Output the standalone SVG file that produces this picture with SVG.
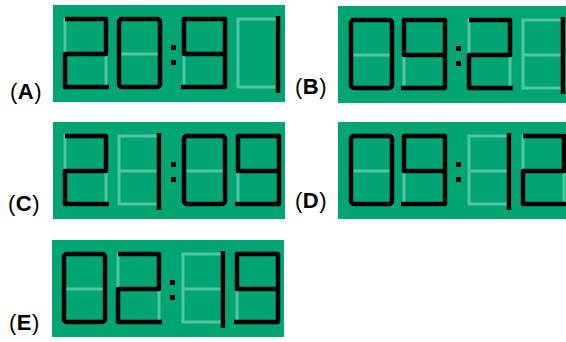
<svg xmlns="http://www.w3.org/2000/svg" xmlns:xlink="http://www.w3.org/1999/xlink" width="566" height="342" viewBox="0 0 566 342">
<style>
.panel{fill:#00A572}
.dim{fill:none;stroke:#50C69D;stroke-width:3}
.lit{fill:none;stroke:#000;stroke-width:4.5;stroke-linejoin:round}
.dot{fill:#000}
.lbl{font-family:"Liberation Sans",Arial,sans-serif;font-size:22px;letter-spacing:0.5px;fill:#000}
.lbl tspan.b{font-weight:bold}
</style>
<defs>
<g id="dim8"><path class="dim" d="M0,14H41V82H0Z M0,49H41"/></g>
<g id="dim0"><path class="dim" d="M0,14H39V82H0Z"/></g>
<g id="d2"><path class="lit" d="M0,14H41V49H0V82H44"/></g>
<g id="d0"><rect class="lit" x="0" y="14" width="41" height="68" rx="2.5"/></g>
<g id="d9"><path class="lit" d="M-3,82H41V14H0V49H41"/></g>
<g id="d1"><path class="lit" d="M40,11V88" style="stroke-linecap:butt"/></g>
<g id="colon"><rect class="dot" x="118" y="40" width="5" height="5"/><rect class="dot" x="118" y="55" width="5" height="5"/></g>
</defs>

<g id="panelA" transform="translate(53,5)">
<rect class="panel" x="0" y="0" width="232" height="97"/>
<use xlink:href="#dim8" x="12"/><use xlink:href="#dim8" x="66"/><use xlink:href="#dim8" x="131"/><use xlink:href="#dim0" x="185"/>
<use xlink:href="#d2" x="12"/><use xlink:href="#d0" x="66"/><use xlink:href="#colon"/><use xlink:href="#d9" x="131"/><use xlink:href="#d1" x="185"/>
</g>
<g id="panelB" transform="translate(338,6)">
<rect class="panel" x="0" y="0" width="232" height="97"/>
<use xlink:href="#dim8" x="13"/><use xlink:href="#dim8" x="66"/><use xlink:href="#dim8" x="131"/><use xlink:href="#dim8" x="185"/>
<use xlink:href="#d0" x="13"/><use xlink:href="#d9" x="66"/><use xlink:href="#colon"/><use xlink:href="#d2" x="131"/><use xlink:href="#d1" x="185"/>
</g>
<g id="panelC" transform="translate(53,122)">
<rect class="panel" x="0" y="0" width="232" height="97"/>
<use xlink:href="#dim8" x="12"/><use xlink:href="#dim8" x="66"/><use xlink:href="#dim8" x="131"/><use xlink:href="#dim8" x="185"/>
<use xlink:href="#d2" x="12"/><use xlink:href="#d1" x="66"/><use xlink:href="#colon"/><use xlink:href="#d0" x="131"/><use xlink:href="#d9" x="185"/>
</g>
<g id="panelD" transform="translate(338,122)">
<rect class="panel" x="0" y="0" width="232" height="97"/>
<use xlink:href="#dim8" x="13"/><use xlink:href="#dim8" x="66"/><use xlink:href="#dim8" x="131"/><use xlink:href="#dim8" x="185"/>
<use xlink:href="#d0" x="13"/><use xlink:href="#d9" x="66"/><use xlink:href="#colon"/><use xlink:href="#d1" x="131"/><use xlink:href="#d2" x="185"/>
</g>
<g id="panelE" transform="translate(52,240)">
<rect class="panel" x="0" y="0" width="232" height="97"/>
<use xlink:href="#dim8" x="12"/><use xlink:href="#dim8" x="66"/><use xlink:href="#dim8" x="131"/><use xlink:href="#dim8" x="185"/>
<use xlink:href="#d0" x="12"/><use xlink:href="#d2" x="66"/><use xlink:href="#colon"/><use xlink:href="#d1" x="131"/><use xlink:href="#d9" x="185"/>
</g>

<g id="labels">
<text class="lbl" x="10" y="99">(<tspan class="b">A</tspan>)</text>
<text class="lbl" x="295" y="94">(<tspan class="b">B</tspan>)</text>
<text class="lbl" x="8" y="211">(<tspan class="b">C</tspan>)</text>
<text class="lbl" x="295" y="208">(<tspan class="b">D</tspan>)</text>
<text class="lbl" x="9" y="330">(<tspan class="b">E</tspan>)</text>
</g>
</svg>
